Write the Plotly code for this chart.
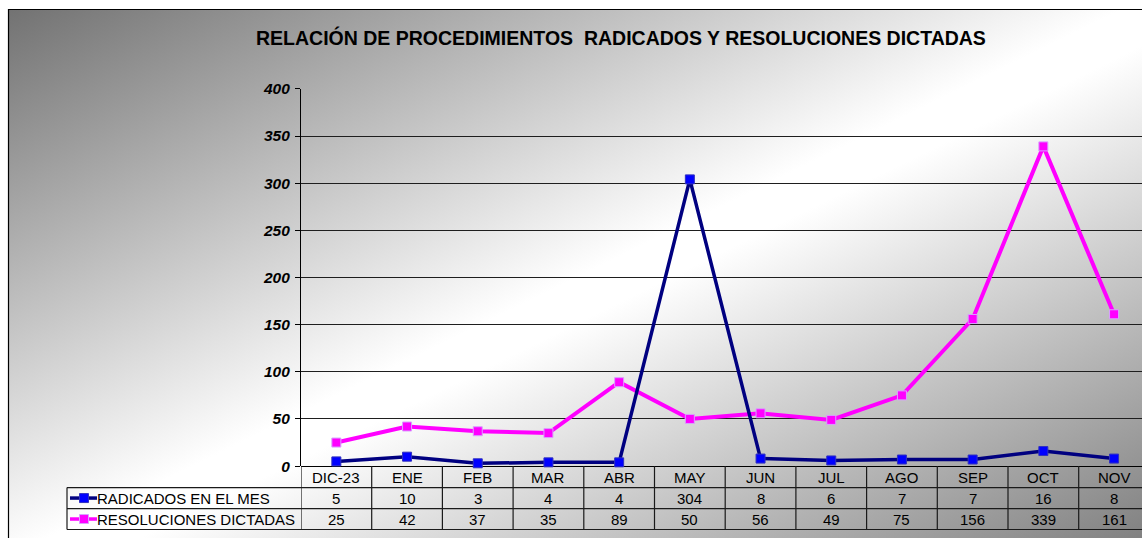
import base64
import plotly.graph_objects as go

# Monthly figures
months = ["DIC-23", "ENE", "FEB", "MAR", "ABR", "MAY", "JUN", "JUL", "AGO", "SEP", "OCT", "NOV"]
radicados = [5, 10, 3, 4, 4, 304, 8, 6, 7, 7, 16, 8]
resoluciones = [25, 42, 37, 35, 89, 50, 56, 49, 75, 156, 339, 161]

series_names = ["RADICADOS EN EL MES", "RESOLUCIONES DICTADAS"]
y_ticks = [0, 50, 100, 150, 200, 250, 300, 350, 400]

W, H = 1142, 538
NAVY, BLUE, MAGENTA = "#000080", "#0000FF", "#FF00FF"
FONT = "Arial, Liberation Sans, sans-serif"

# page offset and drawable height used for the pixel -> paper conversion
TOP, HE = 8, 522


def px(x):
    return x / W


def py(y):
    return 1 - (y - TOP) / HE


# plot area in pixels
PLOT_L, PLOT_T, PLOT_B = 301, 88, 466
COL_W = 70.7
ROW1, ROW2, ROW3 = 487.5, 508.5, 529.5
KEY_L = 67

# diagonal grey-white-grey backdrop
svg = """<svg xmlns='http://www.w3.org/2000/svg' width='1160' height='560' viewBox='0 0 1160 560' preserveAspectRatio='none'>
<defs><linearGradient id='g' x1='0' y1='0' x2='1' y2='1'>
<stop offset='0' stop-color='#727272'/>
<stop offset='0.48' stop-color='#ffffff'/>
<stop offset='0.52' stop-color='#ffffff'/>
<stop offset='1' stop-color='#737373'/>
</linearGradient></defs>
<rect width='1160' height='560' fill='url(#g)'/></svg>"""
bg_uri = "data:image/svg+xml;base64," + base64.b64encode(svg.encode()).decode()

fig = go.Figure()
x_idx = list(range(len(months)))

fig.add_trace(go.Scatter(
    x=x_idx, y=resoluciones, mode="lines+markers", name=series_names[1],
    line=dict(color=MAGENTA, width=4),
    marker=dict(symbol="square", size=9, color=MAGENTA, line=dict(color="#d9a0ff", width=1)),
    cliponaxis=False,
))
fig.add_trace(go.Scatter(
    x=x_idx, y=radicados, mode="lines+markers", name=series_names[0],
    line=dict(color=NAVY, width=3.5),
    marker=dict(symbol="square", size=9, color=BLUE, line=dict(color="#3030c0", width=1)),
    cliponaxis=False,
))

x_end = -0.5 + (W - PLOT_L) / COL_W

shapes = []
annotations = []

# outer frame
shapes.append(dict(type="rect", xref="paper", yref="paper", x0=px(8.5), x1=px(1170),
                   y0=py(580), y1=py(8.5), line=dict(color="#000000", width=1.2),
                   fillcolor="rgba(0,0,0,0)", layer="above"))

# data table: column separators
for i in range(len(months) + 1):
    shapes.append(dict(type="line", xref="x", yref="paper", x0=i - 0.5, x1=i - 0.5,
                       y0=py(PLOT_B), y1=py(ROW3), line=dict(color="#1a1a1a", width=1.2)))
# key column left edge
shapes.append(dict(type="line", xref="paper", yref="paper", x0=px(KEY_L), x1=px(KEY_L),
                   y0=py(ROW1), y1=py(ROW3), line=dict(color="#1a1a1a", width=1.2)))
# row separators
for yy in (ROW1, ROW2, ROW3):
    shapes.append(dict(type="line", xref="paper", yref="paper", x0=px(KEY_L), x1=px(W + 10),
                       y0=py(yy), y1=py(yy), line=dict(color="#1a1a1a", width=1.2)))

# legend keys inside the table
keys = ((ROW1 + 10.5, NAVY, BLUE, "#3030c0"), (ROW2 + 10.5, MAGENTA, MAGENTA, "#d9a0ff"))
for yy, lc, mc, mlc in keys:
    shapes.append(dict(type="line", xref="paper", yref="paper", x0=px(70), x1=px(97),
                       y0=py(yy), y1=py(yy), line=dict(color=lc, width=3.5)))
    shapes.append(dict(type="rect", xref="paper", yref="paper", x0=px(79.5), x1=px(88.5),
                       y0=py(yy + 4.5), y1=py(yy - 4.5), fillcolor=mc, line=dict(color=mlc, width=1)))

for name, yy in zip(series_names, (ROW1 + 10.5, ROW2 + 10.5)):
    annotations.append(dict(text=name, xref="paper", yref="paper", x=px(95), y=py(yy),
                            xanchor="left", yanchor="middle", showarrow=False,
                            font=dict(family=FONT, size=15, color="#000000")))

# table cells
for i, m in enumerate(months):
    annotations.append(dict(text=m, xref="x", yref="paper", x=i, y=py((PLOT_B + ROW1) / 2 + 0.5),
                            xanchor="center", yanchor="middle", showarrow=False,
                            font=dict(family=FONT, size=15, color="#000000")))
    for vals, yy in ((radicados, (ROW1 + ROW2) / 2), (resoluciones, (ROW2 + ROW3) / 2)):
        annotations.append(dict(text=str(vals[i]), xref="x", yref="paper", x=i, y=py(yy + 0.5),
                                xanchor="center", yanchor="middle", showarrow=False,
                                font=dict(family=FONT, size=15, color="#000000")))

# title
annotations.append(dict(text="RELACIÓN DE PROCEDIMIENTOS\u00a0 RADICADOS Y RESOLUCIONES DICTADAS",
                        xref="paper", yref="paper", x=px(621), y=py(37),
                        xanchor="center", yanchor="middle", showarrow=False,
                        font=dict(family=FONT, size=19.5, color="#000000", weight="bold")))

fig.update_layout(
    width=W, height=H,
    margin=dict(l=0, r=0, t=0, b=0),
    paper_bgcolor="#ffffff",
    plot_bgcolor="rgba(0,0,0,0)",
    showlegend=False,
    images=[dict(source=bg_uri, xref="paper", yref="paper", x=px(8), y=py(8),
                 sizex=px(1170) - px(8), sizey=py(8) - py(580),
                 xanchor="left", yanchor="top", sizing="stretch", layer="below")],
    shapes=shapes,
    annotations=annotations,
    xaxis=dict(domain=[px(PLOT_L), 1], range=[-0.5, x_end], showticklabels=False,
               showgrid=False, zeroline=False, showline=False, ticks=""),
    yaxis=dict(domain=[py(PLOT_B), py(PLOT_T)], range=[0, 400], tickvals=y_ticks,
               showgrid=True, gridcolor="#1e1e1e", gridwidth=1,
               zeroline=True, zerolinecolor="#000000", zerolinewidth=1.2,
               showline=True, linecolor="#000000", linewidth=1.2,
               ticks="outside", ticklen=5, tickcolor="#000000", ticklabelstandoff=2,
               tickfont=dict(family=FONT, size=15.5, color="#000000", weight="bold", style="italic")),
)

fig.write_html("out.html")
